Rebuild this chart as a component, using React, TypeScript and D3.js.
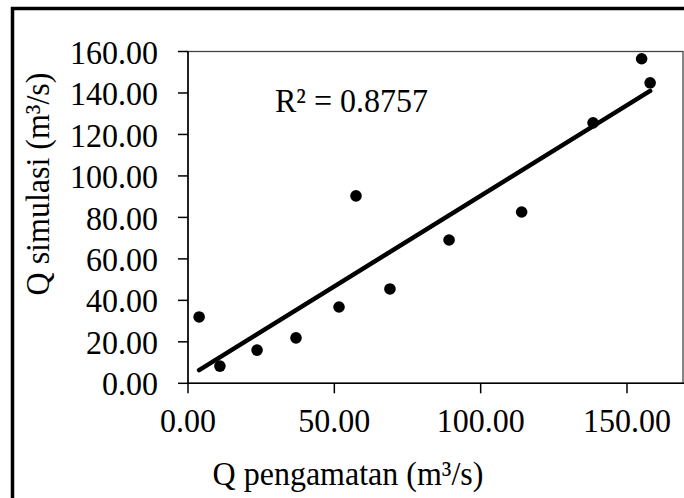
import React from "react";
import * as d3 from "d3";

const qObserved = [3.8, 10.9, 23.6, 36.9, 51.6, 57.4, 69.0, 89.2, 114.0, 138.4, 155.0, 157.9];
const qSimulated = [32.0, 8.3, 16.0, 21.9, 36.8, 90.4, 45.5, 69.1, 82.6, 125.6, 156.5, 144.9];
const xTicks = [0, 50, 100, 150];
const yTicks = [0, 20, 40, 60, 80, 100, 120, 140, 160];
const r2Label = "R² = 0.8757";
const xTitle = "Q pengamatan (m³/s)";
const yTitle = "Q simulasi (m³/s)";

const W = 684;
const H = 498;
const FONT = "'Liberation Serif', 'Times New Roman', serif";

export default function App() {
  const left = 188;
  const top = 51.5;
  const bottom = 383.3;
  const right = 683;
  const x = d3.scaleLinear().domain([0, 150]).range([left, 627]);
  const y = d3.scaleLinear().domain([0, 160]).range([bottom, top]);

  // linear regression
  const mx = d3.mean(qObserved)!;
  const my = d3.mean(qSimulated)!;
  let sxy = 0, sxx = 0;
  qObserved.forEach((v, i) => {
    sxy += (v - mx) * (qSimulated[i] - my);
    sxx += (v - mx) * (v - mx);
  });
  const slope = sxy / sxx;
  const intercept = my - slope * mx;
  const [x0, x1] = d3.extent(qObserved) as [number, number];
  const line = d3.line<number>().x((d) => x(d)).y((d) => y(intercept + slope * d));

  const fmt = d3.format(".2f");

  return (
    <svg
      width={W}
      height={H}
      style={{ position: "absolute", left: 0, top: 0, background: "#fff" }}
      fontFamily={FONT}
    >
      <rect x={0} y={0} width={W} height={H} fill="#fff" />
      {/* outer frame */}
      <rect x={12.5} y={8.5} width={W + 20} height={H + 20} fill="none" stroke="#000" strokeWidth={3.5} />
      {/* plot area */}
      <rect x={left} y={top} width={right - left} height={bottom - top} fill="none" stroke="#444" strokeWidth={1.3} />
      {/* y axis */}
      <line x1={left} y1={top} x2={left} y2={bottom} stroke="#000" strokeWidth={1.5} />
      {yTicks.map((t) => (
        <g key={"y" + t}>
          <line x1={left - 10} x2={left} y1={y(t)} y2={y(t)} stroke="#000" strokeWidth={1.5} />
          <text
            transform={`translate(158,${y(t)}) scale(1,1.08)`}
            textAnchor="end"
            dy="0.35em"
            fontSize={32}
            fill="#000"
          >
            {fmt(t)}
          </text>
        </g>
      ))}
      {/* x axis */}
      <line x1={left} y1={bottom} x2={right + 2} y2={bottom} stroke="#000" strokeWidth={1.5} />
      {xTicks.map((t) => (
        <g key={"x" + t}>
          <line x1={x(t)} x2={x(t)} y1={bottom} y2={bottom + 10} stroke="#000" strokeWidth={1.5} />
          <text
            transform={`translate(${x(t)},432) scale(1,1.08)`}
            textAnchor="middle"
            fontSize={32}
            fill="#000"
          >
            {fmt(t)}
          </text>
        </g>
      ))}
      {/* trend line */}
      <path d={line([x0, x1]) || ""} fill="none" stroke="#000" strokeWidth={4.5} strokeLinecap="round" />
      {/* points */}
      {qObserved.map((v, i) => (
        <circle key={"p" + i} cx={x(v)} cy={y(qSimulated[i])} r={5.8} fill="#000" />
      ))}
      {/* R2 label */}
      <text transform="translate(275,111.5) scale(1,1.05)" fontSize={32} fill="#000">
        {r2Label}
      </text>
      {/* titles */}
      <text transform="translate(348,485) scale(1,1.08)" textAnchor="middle" fontSize={32} fill="#000">
        {xTitle}
      </text>
      <text transform="translate(49,184) rotate(-90) scale(1,1.08)" textAnchor="middle" fontSize={32} fill="#000">
        {yTitle}
      </text>
    </svg>
  );
}
